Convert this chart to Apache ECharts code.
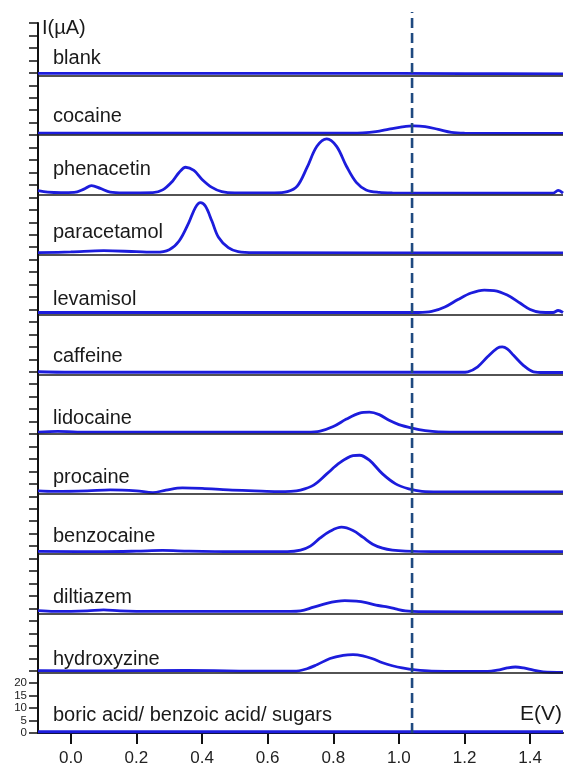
<!DOCTYPE html>
<html><head><meta charset="utf-8">
<script src="https://cdn.jsdelivr.net/npm/echarts@6/dist/echarts.min.js"></script>
<style>html,body{margin:0;padding:0;background:#fff}#c{width:564px;height:770px}</style>
</head><body><div id="c"></div><script>
// Compounds, top panel to bottom panel
const compounds = ['blank','cocaine','phenacetin','paracetamol','levamisol','caffeine','lidocaine','procaine','benzocaine','diltiazem','hydroxyzine','boric acid/ benzoic acid/ sugars'];
const xTickValues = [0.0,0.2,0.4,0.6,0.8,1.0,1.2,1.4];
const yTickLabels = [0,5,10,15,20];
const dashPotential = 1.04;
const xName = 'E(V)';
const yName = 'I(µA)';

// Voltammograms: [E (V), I (µA) above the panel baseline]
const blank = [[-0.1,0.8],[0.3,0.8],[0.8,0.8],[1.2,0.7],[1.5,0.6]];
const cocaine = [[-0.1,0.8],[0.5,0.8],[0.85,0.8],[0.89,0.9],[0.93,1.4],[0.97,2.4],[1.01,3.3],[1.045,3.7],[1.08,3.4],[1.12,2.3],[1.16,1.1],[1.2,0.8],[1.5,0.7]];
const phenacetin = [[-0.1,1.7],[-0.07,1.1],[-0.03,0.9],[0.01,1.0],[0.04,2.3],[0.063,3.7],[0.09,2.6],[0.12,1.1],[0.16,0.8],[0.25,0.9],[0.28,2.0],[0.31,5.5],[0.33,9.0],[0.35,11.1],[0.375,9.8],[0.40,6.2],[0.43,3.0],[0.46,1.3],[0.5,0.8],[0.62,0.8],[0.66,1.3],[0.69,3.5],[0.72,11.0],[0.75,19.5],[0.78,22.5],[0.81,19.5],[0.84,11.5],[0.87,5.0],[0.90,2.0],[0.94,1.0],[0.98,0.8],[1.47,0.7],[1.485,1.8],[1.5,0.7]];
const paracetamol = [[-0.1,0.8],[0.0,1.1],[0.1,1.6],[0.2,1.2],[0.26,1.0],[0.3,2.0],[0.33,5.5],[0.36,13.0],[0.38,19.0],[0.395,20.9],[0.41,19.5],[0.43,13.5],[0.45,7.0],[0.48,2.8],[0.51,1.2],[0.56,0.8],[1.5,0.7]];
const levamisol = [[-0.1,0.8],[0.5,0.8],[1.06,0.8],[1.1,1.2],[1.14,3.0],[1.18,6.0],[1.22,8.6],[1.26,9.8],[1.29,9.6],[1.33,7.8],[1.37,4.5],[1.40,2.0],[1.43,0.9],[1.47,0.8],[1.485,1.6],[1.5,0.8]];
const caffeine = [[-0.1,1.0],[0.0,0.8],[0.6,0.8],[1.19,0.8],[1.21,1.0],[1.24,3.0],[1.27,7.0],[1.30,10.5],[1.315,11.0],[1.33,10.2],[1.35,7.5],[1.38,3.5],[1.41,1.0],[1.44,0.7],[1.5,0.7]];
const lidocaine = [[-0.1,0.8],[-0.04,1.1],[0.02,0.8],[0.6,0.8],[0.72,0.8],[0.76,1.2],[0.80,3.0],[0.84,6.0],[0.88,8.4],[0.91,8.8],[0.94,7.8],[0.97,5.5],[1.0,3.8],[1.04,2.4],[1.08,1.4],[1.12,0.9],[1.2,0.8],[1.5,0.8]];
const procaine = [[-0.1,1.2],[-0.05,1.0],[0.05,1.2],[0.12,1.6],[0.2,1.2],[0.25,0.5],[0.29,1.5],[0.34,2.4],[0.4,2.2],[0.48,1.6],[0.56,1.2],[0.63,0.9],[0.67,1.0],[0.70,1.5],[0.74,3.5],[0.78,8.0],[0.82,12.5],[0.86,15.3],[0.88,15.5],[0.91,13.5],[0.95,8.0],[0.99,4.0],[1.03,2.0],[1.07,1.0],[1.12,0.8],[1.5,0.8]];
const benzocaine = [[-0.1,0.9],[0.1,0.8],[0.2,1.0],[0.28,1.3],[0.36,1.0],[0.5,0.8],[0.66,0.8],[0.70,1.4],[0.73,3.0],[0.76,6.3],[0.79,9.0],[0.825,10.6],[0.86,9.3],[0.89,6.6],[0.92,3.8],[0.95,2.2],[0.98,1.4],[1.02,1.0],[1.1,0.8],[1.5,0.8]];
const diltiazem = [[-0.1,1.1],[-0.05,0.8],[0.05,1.0],[0.10,1.4],[0.15,1.0],[0.25,0.8],[0.67,0.8],[0.70,1.0],[0.74,2.5],[0.78,4.0],[0.81,4.8],[0.835,5.1],[0.87,4.9],[0.90,4.3],[0.93,3.3],[0.96,2.7],[0.99,1.8],[1.02,1.0],[1.06,0.7],[1.5,0.6]];
const hydroxyzine = [[-0.1,1.0],[0.1,0.9],[0.35,1.1],[0.6,0.8],[0.68,0.8],[0.72,1.8],[0.75,3.4],[0.79,5.9],[0.83,7.2],[0.86,7.5],[0.89,7.0],[0.92,5.8],[0.95,4.2],[0.98,3.0],[1.01,2.1],[1.05,1.3],[1.1,0.8],[1.2,0.7],[1.27,0.7],[1.30,1.2],[1.33,2.1],[1.355,2.5],[1.38,2.1],[1.41,1.2],[1.44,0.5],[1.5,0.3]];
const boricMix = [[-0.1,0.5],[0.5,0.5],[1.0,0.5],[1.5,0.5]];

const curves = [blank,cocaine,phenacetin,paracetamol,levamisol,caffeine,lidocaine,procaine,benzocaine,diltiazem,hydroxyzine,boricMix];

// layout
const PANEL_STEP = 24;
const Y_MAX = 285;
const labelRise = [17,19,25,22,15,18,16,16,17,16,14,18];
const BLUE = '#1c1cdc';
const FONT = 'Liberation Sans, Arial, sans-serif';

const chart = echarts.init(document.getElementById('c'), null, {renderer:'canvas'});
const n = compounds.length;
const offsetOf = i => (n - 1 - i) * PANEL_STEP;

const series = curves.map((c, i) => ({
  type: 'line', xAxisIndex: 0, yAxisIndex: 0,
  data: c.map(p => [p[0], p[1] + offsetOf(i)]),
  showSymbol: false, symbol: 'none', smooth: 0.35,
  lineStyle: {color: BLUE, width: 2.8}, z: 3, silent: true, animation: false
}));
series.push({
  type: 'line', xAxisIndex: 0, yAxisIndex: 0, data: [], silent: true, animation: false,
  markLine: {
    symbol: 'none', silent: true, animation: false, label: {show: false},
    lineStyle: {color: '#1a1a1a', width: 1.7, type: 'solid'},
    data: compounds.slice(0, n - 1).map((_, i) => ({yAxis: offsetOf(i)}))
  }, z: 2
});
series.push({
  type: 'line', xAxisIndex: 1, yAxisIndex: 1,
  data: [[dashPotential, 0], [dashPotential, 1]],
  showSymbol: false, symbol: 'none', silent: true, animation: false,
  lineStyle: {color: '#1f4a80', width: 2.6, type: [10, 5]}, z: 5
});

chart.setOption({
  animation: false,
  backgroundColor: '#fff',
  grid: [
    {left: 38, right: 1, top: 23, bottom: 37},
    {left: 38, right: 1, top: 12, bottom: 37}
  ],
  xAxis: [{
    type: 'value', min: -0.1, max: 1.5, gridIndex: 0,
    splitLine: {show: false},
    axisLine: {show: true, onZero: false, lineStyle: {color: '#111', width: 2}},
    axisTick: {show: true, length: 11, lineStyle: {color: '#111', width: 2}, customValues: xTickValues},
    axisLabel: {customValues: xTickValues, formatter: v => v.toFixed(1), fontSize: 17, color: '#222', margin: 17, fontFamily: FONT}
  }, {
    type: 'value', min: -0.1, max: 1.5, gridIndex: 1, show: false
  }],
  yAxis: [{
    type: 'value', min: 0, max: Y_MAX, interval: 5, gridIndex: 0,
    splitLine: {show: false},
    axisLine: {show: true, onZero: false, lineStyle: {color: '#111', width: 2}},
    axisTick: {show: true, length: 9, lineStyle: {color: '#111', width: 1.5}},
    axisLabel: {interval: 0, showMinLabel: true, hideOverlap: false, formatter: v => yTickLabels.includes(v) ? String(v) : '', fontSize: 11.5, color: '#222', margin: 11, fontFamily: FONT}
  }, {
    type: 'value', min: 0, max: 1, gridIndex: 1, show: false
  }],
  series
});

const graphics = compounds.map((name, i) => {
  const yb = chart.convertToPixel({yAxisIndex: 0}, offsetOf(i));
  return {
    type: 'text', left: 53, top: yb - labelRise[i] - 10,
    style: {text: name, fontSize: 20, fontFamily: FONT, fill: '#1a1a1a'}
  };
});
graphics.push({type: 'text', left: 42, top: 18, style: {text: yName, fontSize: 20, fontFamily: FONT, fill: '#1a1a1a'}});
graphics.push({type: 'text', right: 2, top: chart.convertToPixel({yAxisIndex: 0}, 0) - 29, style: {text: xName, fontSize: 21, fontFamily: FONT, fill: '#1a1a1a'}});
chart.setOption({graphic: graphics});
</script></body></html>
